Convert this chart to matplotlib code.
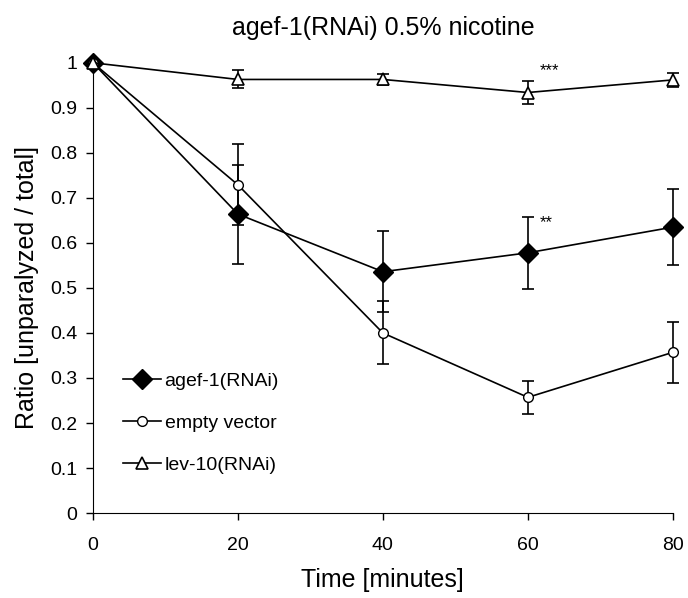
import numpy as np
import matplotlib.pyplot as plt

plt.rcParams['font.family'] = ['Liberation Sans', 'DejaVu Sans']

time = np.array([0, 20, 40, 60, 80])

agef1 = np.array([1.0, 0.664, 0.536, 0.578, 0.635])
agef1_err = np.array([0.0, 0.11, 0.09, 0.08, 0.085])

empty = np.array([1.0, 0.729, 0.40, 0.257, 0.357])
empty_err = np.array([0.0, 0.09, 0.07, 0.037, 0.068])

lev10 = np.array([1.0, 0.963, 0.963, 0.934, 0.962])
lev10_err = np.array([0.0, 0.02, 0.013, 0.026, 0.015])

fig = plt.figure(figsize=(6.88, 5.98), dpi=100)
ax = fig.add_axes([0.135, 0.142, 0.843, 0.753])

# error bars first, lines + markers on top
for y, e in [(agef1, agef1_err), (empty, empty_err), (lev10, lev10_err)]:
    ax.errorbar(time, y, yerr=e, fmt='none', ecolor='black', elinewidth=1.2,
                capsize=4, capthick=1.2, clip_on=False, zorder=2)

ax.plot(time, agef1, color='black', lw=1.2, marker='D', ms=10, mfc='black',
        mec='black', label='agef-1(RNAi)', clip_on=False, zorder=3)
ax.plot(time, empty, color='black', lw=1.2, marker='o', ms=7, mfc='white',
        mec='black', label='empty vector', clip_on=False, zorder=3)
ax.plot(time, lev10, color='black', lw=1.2, marker='^', ms=8, mfc='white',
        mec='black', mew=1.2, label='lev-10(RNAi)', clip_on=False, zorder=3)

ax.text(61.6, 0.982, '***', fontsize=12, va='center')
ax.text(61.6, 0.645, '**', fontsize=12, va='center')

ax.set_xlim(0, 80)
ax.set_ylim(0, 1)
ax.set_xticks([0, 20, 40, 60, 80])
ax.set_yticks(np.arange(0, 1.01, 0.1))
ax.set_yticklabels(['0', '0.1', '0.2', '0.3', '0.4', '0.5', '0.6', '0.7', '0.8', '0.9', '1'])
ax.tick_params(direction='out', length=5, width=1, labelsize=14)
ax.tick_params(axis='x', pad=12)
ax.tick_params(axis='y', pad=6)
for s in ['top', 'right']:
    ax.spines[s].set_visible(False)

ax.set_xlabel('Time [minutes]', fontsize=18, labelpad=10)
ax.set_ylabel('Ratio [unparalyzed / total]', fontsize=18, labelpad=8)
ax.set_title('agef-1(RNAi) 0.5% nicotine', fontsize=18, pad=20)

ax.legend(loc='center left', bbox_to_anchor=(0.038, 0.2), frameon=False,
          fontsize=14, labelspacing=1.25, handlelength=1.95,
          handletextpad=0.2, borderaxespad=0)

fig.savefig('out.png', dpi=100)
